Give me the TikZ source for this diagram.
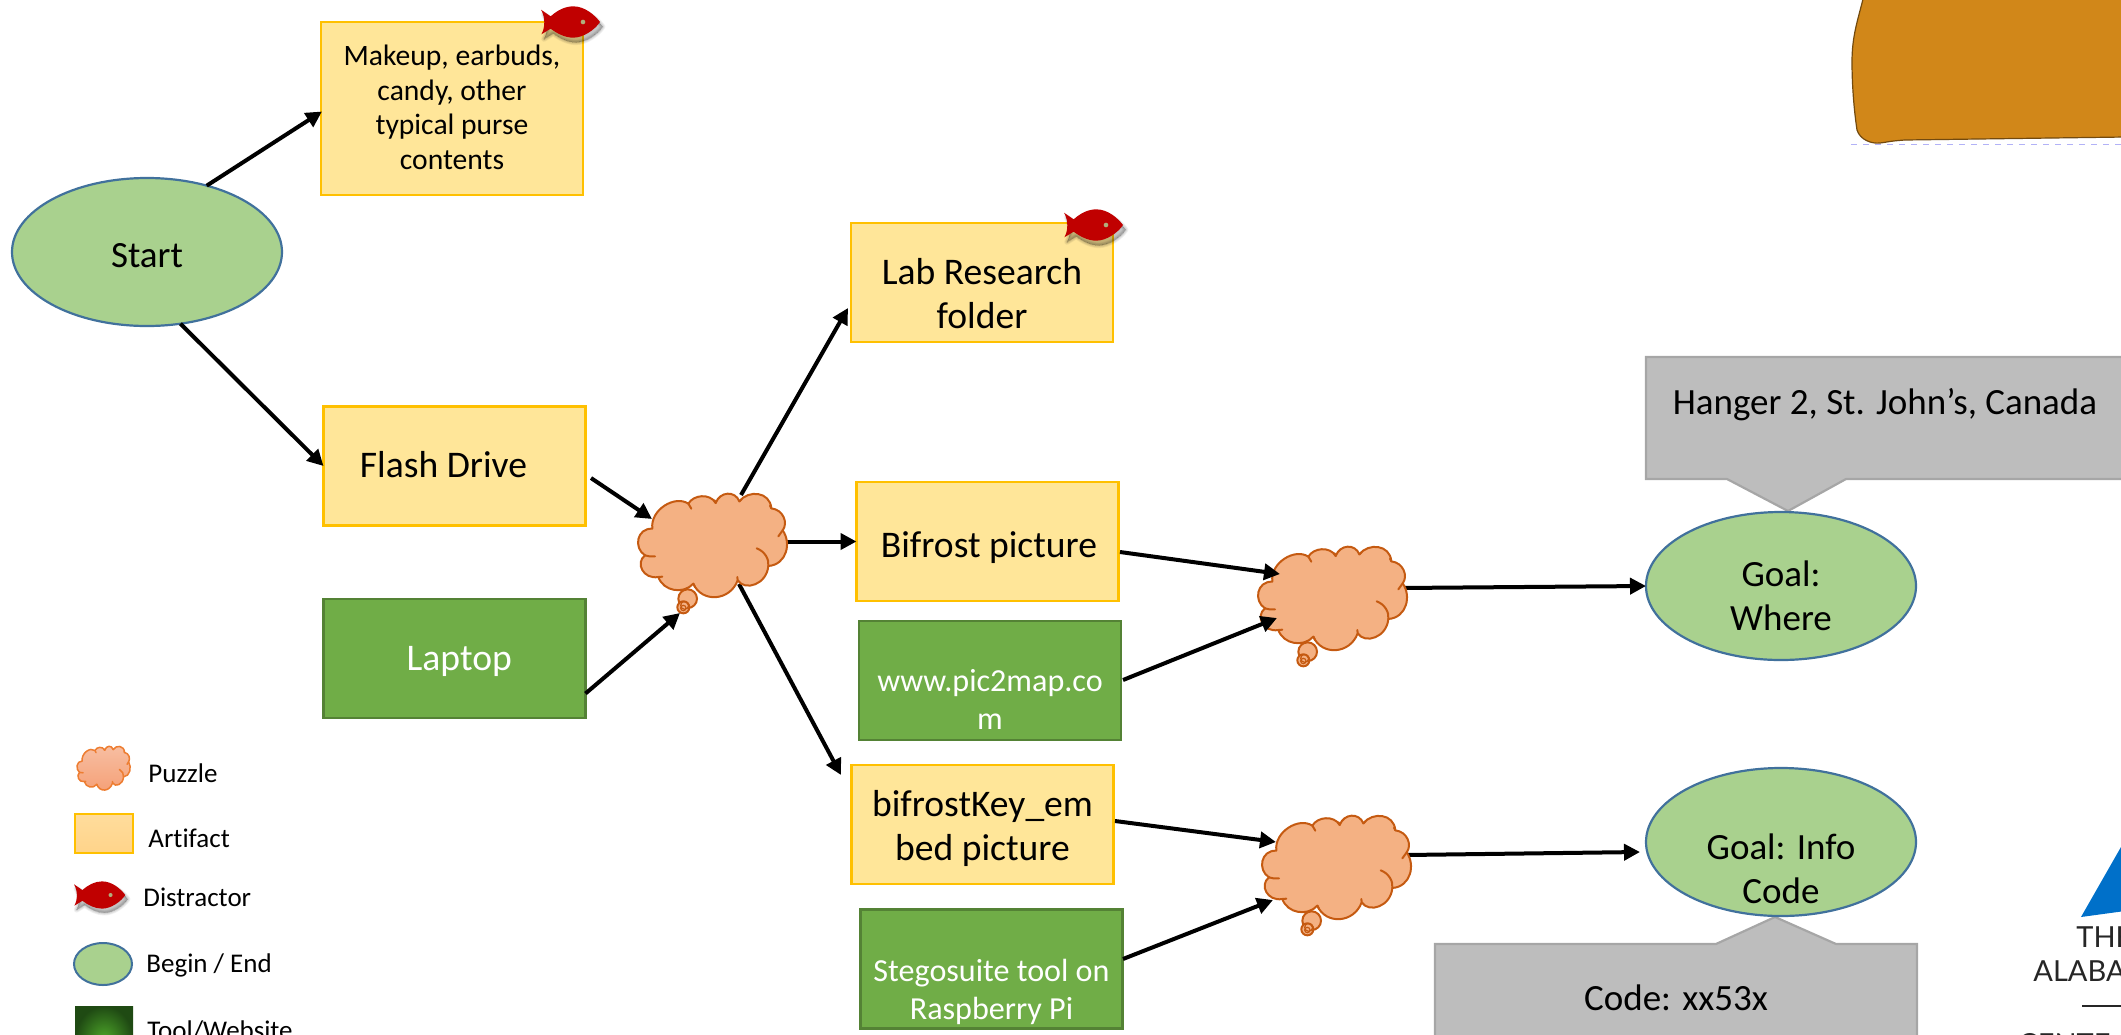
\documentclass[tikz,border=0pt]{standalone}
\usepackage{fontspec}
\setmainfont{Carlito}[Ligatures=NoCommon]
\newfontfamily\logofont{Lato}
\usetikzlibrary{arrows.meta,calc,shapes.geometric}
\definecolor{artfill}{HTML}{FFE699}
\definecolor{artline}{HTML}{FFC000}
\definecolor{toolfill}{HTML}{70AD47}
\definecolor{toolline}{HTML}{548235}
\definecolor{goalfill}{HTML}{A9D18E}
\definecolor{goalline}{HTML}{41719C}
\definecolor{cloudfill}{HTML}{F4B183}
\definecolor{cloudline}{HTML}{C55A11}
\definecolor{greyfill}{HTML}{BDBDBD}
\definecolor{greyline}{HTML}{A6A6A6}
\definecolor{ochre}{HTML}{D18719}
\definecolor{fishred}{HTML}{C00000}
\definecolor{logoblue}{HTML}{0070C9}
\definecolor{lgclouda}{HTML}{F7BFA3}
\definecolor{lgcloudl}{HTML}{ED7D31}
\definecolor{lgarta}{HTML}{FFDC9C}
\definecolor{lgartb}{HTML}{FFD48A}
\definecolor{lgtoola}{HTML}{4EA72A}
\definecolor{lgtoolb}{HTML}{1F4A13}
\tikzset{
  boxbase/.style={rectangle,inner sep=0pt,outer sep=0pt,minimum width=131pt,minimum height=59.5pt,line width=1.1pt,align=center},
  artifact/.style={boxbase,draw=artline,fill=artfill,font=\fontsize{18.8}{22}\selectfont},
  toolbox/.style={boxbase,draw=toolline,fill=toolfill,text=white,font=\fontsize{16.05}{19}\selectfont},
  goal/.style={ellipse,inner sep=0pt,outer sep=0pt,minimum width=135pt,minimum height=74pt,draw=goalline,fill=goalfill,line width=1.1pt,align=center,font=\fontsize{18.5}{22}\selectfont},
  flow/.style={-{Triangle[length=8pt,width=8pt]},line width=2pt,black},
  legendtext/.style={anchor=west,inner sep=0pt,font=\fontsize{13.5}{16}\selectfont},
  calloutfill/.style={draw=greyline,fill=greyfill,line width=1.1pt},
  calltext/.style={inner sep=0pt,font=\fontsize{18.5}{22}\selectfont},
  logotext/.style={anchor=west,inner sep=0pt,text=black!85,font=\logofont\fontsize{14.5}{16}\selectfont},
}
\newcommand{\lbl}[2]{\smash{\raisebox{\dimexpr -#1pt -0.25em\relax}{\begin{tabular}{@{}c@{}}#2\end{tabular}}}}
\newcommand{\cloudshape}[6]{%
  \begin{scope}[shift={(#1,#2)},#3,shift={(-114,-100)}]
    \path[#4,draw=#5,line width=#6,line join=round]
      (157,207) .. controls (150,150) and (225,105) .. (265,132)
      .. controls (280,105) and (330,100) .. (347,130)
      .. controls (360,95) and (405,92) .. (418,125)
      .. controls (445,90) and (510,95) .. (514,146)
      .. controls (550,150) and (565,190) .. (548,212)
      .. controls (575,250) and (560,315) .. (505,319)
      .. controls (500,375) and (435,395) .. (413,362)
      .. controls (390,425) and (305,430) .. (280,372)
      .. controls (250,405) and (190,395) .. (175,352)
      .. controls (130,360) and (105,310) .. (135,287)
      .. controls (100,265) and (110,205) .. (157,207) -- cycle;
    \draw[draw=#5,line width=#6,line cap=round]
      (470,266) .. controls (495,275) and (508,300) .. (505,319)
      (413,362) -- (412,352)
      (280,372) -- (285,382)
      (175,352) -- (187,351)
      (135,287) .. controls (145,291) and (155,291) .. (165,290)
      (548,212) -- (535,230)
      (514,146) -- (510,138)
      (418,125) -- (425,118)
      (347,130) -- (344,122)
      (265,132) -- (274,147);
  \end{scope}}
\newcommand{\puzzle}[3]{%
  \cloudshape{#2}{#3}{scale=1/3}{fill=cloudfill}{cloudline}{1pt}
  \begin{scope}[shift={(#2,#3)},scale=1/3,shift={(-114,-100)}]
    \filldraw[fill=cloudfill,draw=cloudline,line width=1pt] (263,417) circle (28);
    \filldraw[fill=cloudfill,draw=cloudline,line width=1pt] (250,443) circle (18);
    \draw[cloudline,line width=0.6pt] (254,437) circle (12);
    \draw[cloudline,line width=0.6pt] (250,445) circle (8);
  \end{scope}
  \node[inner sep=0pt,outer sep=0pt,minimum size=1pt] (#1) at ($(#2,#3)+(75,53)$) {};}
\newcommand{\fishpath}{(123,28) -- (152,48) .. controls (172,30) and (195,18) .. (220,18)
      .. controls (255,18) and (285,45) .. (300,65)
      .. controls (285,88) and (250,112) .. (220,112)
      .. controls (195,112) and (172,100) .. (152,85) -- (124,102)
      .. controls (136,82) and (136,50) .. (123,28) -- cycle}
\newcommand{\fishat}[3]{%
  \begin{scope}[shift={(#1,#2)},scale=#3,shift={(-123,-65)}]
    \foreach \o in {4,3,2,1,0}{
      \filldraw[black,opacity=0.05,line width=\o*0.7pt,line join=round,shift={(8,14)}] \fishpath;
    }
    \fill[fishred] \fishpath;
    \fill[gray!70!yellow] (249,65) circle (7);
  \end{scope}}
\begin{document}
\begin{tikzpicture}[x=0.5pt,y=-0.5pt]
\useasboundingbox (0,0) rectangle (2121,1034);
\clip (0,0) rectangle (2121,1034);

% ochre shape at top right
\draw[black!45!ochre,line width=0.6pt,fill=ochre] (1864,-5) .. controls (1858,20) and (1852,35) .. (1852,62)
  .. controls (1852,85) and (1854,110) .. (1857,130)
  .. controls (1860,140) and (1872,144) .. (1880,143)
  .. controls (1888,142) and (1890,141) .. (1905,140) -- (2125,137) -- (2125,-5) -- cycle;
\draw[black!10!blue!30!white,line width=0.4pt,dashed] (1851,144) -- (2125,144);

% logo fragment
\fill[logoblue] (2081,917) -- (2125,840) -- (2125,911) -- cycle;
\node[logotext] (logothe) at (2076,937) {THE};
\node[logotext] (logoala) at (2033,971) {ALABA};
\draw[black!85,line width=0.9pt] (2082,1006) -- (2125,1006);
\node[logotext] (logocen) at (2018,1044) {CENTE};

% callouts
\draw[calloutfill] (1646,357) -- (2130,357) -- (2130,479) -- (1846,479) -- (1788,511) -- (1727,479) -- (1646,479) -- cycle;
\draw[calloutfill] (1435,944) -- (1716,944) -- (1775,917) -- (1836,944) -- (1917,944) -- (1917,1045) -- (1435,1045) -- cycle;
\node[calltext] (hanger) at (1885,405) {Hanger 2, St. John’s, Canada};
\node[calltext] (codetxt) at (1676,998) {Code: xx53x};

% connector ends
\coordinate (flashout) at (591,478);
\coordinate (pain) at (652,519);
\coordinate (patail) at (680,613);
\coordinate (paup) at (741,495);
\coordinate (paright) at (785,541.5);
\coordinate (padown) at (739,584);
\coordinate (keyin) at (841,775);
\coordinate (pbina) at (1280,574);
\coordinate (pbinb) at (1277,618);
\coordinate (pbout) at (1400,588);
\coordinate (pcina) at (1276,842);
\coordinate (pcinb) at (1273,900);
\coordinate (pcout) at (1406,855);
\coordinate (infoin) at (1640,852);
\coordinate (bifout) at (1120,552);
\coordinate (picout) at (1123,680);
\coordinate (keyout) at (1115,821);
\coordinate (stegoout) at (1123,959);

% nodes
\node[goal] (start) at (147,252) {\lbl{3.1}{Start}};
\node[artifact,minimum height=86.5pt,font=\fontsize{14.8}{17.4}\selectfont] (purse) at (452,108.5) {\lbl{0.9}{Makeup, earbuds,\\candy, other\\typical purse\\contents}};
\node[artifact] (lab) at (982,282.5) {\lbl{7.4}{Lab Research\\folder}};
\node[artifact] (flash) at (454.5,466) {\lbl{1}{Flash Drive\hspace{11pt}\mbox{}}};
\node[toolbox,font=\fontsize{18.8}{22}\selectfont] (laptop) at (454.5,658.5) {\lbl{1.3}{\hspace{4.8pt}Laptop}};
\node[artifact] (bifrost) at (987.5,541.5) {\lbl{3}{\hspace{1.5pt}Bifrost picture}};
\node[toolbox] (pic) at (990,680.5) {\lbl{11.5}{www.pic2map.co\\m}};
\node[artifact] (key) at (982.5,824.5) {\lbl{2}{bifrostKey\_em\\bed picture}};
\node[toolbox] (stego) at (991.5,969) {\lbl{12.5}{Stegosuite tool on\\Raspberry Pi}};
\node[goal] (where) at (1781,586) {\lbl{6.4}{Goal:\\Where}};
\node[goal] (info) at (1781,842) {\lbl{14.8}{Goal: Info\\Code}};

% connectors leaving or passing behind the puzzles
\draw[flow] (start.48) -- ($(purse.west)+(1,3)$);
\draw[flow] (start.-65) -- (flash.west);
\draw[flow] (paup) -- ($(lab.191)+(-3,0)$);
\draw[flow] (paright) -- (bifrost.west);
\draw[flow] (padown) -- (keyin);
\draw[flow] (pbout) -- (where.west);
\draw[flow] (pcout) -- (infoin);

\puzzle{pa}{638}{493}
\puzzle{pb}{1258}{546}
\puzzle{pc}{1262}{815}

% connectors entering the puzzles
\draw[flow] (flashout) -- (pain);
\draw[flow] ($(laptop.east)+(0,35)$) -- (patail);
\draw[flow] (bifout) -- (pbina);
\draw[flow] (picout) -- (pbinb);
\draw[flow] (keyout) -- (pcina);
\draw[flow] (stegoout) -- (pcinb);

% distractors
\fishat{541}{22}{1/3}
\fishat{1064}{225}{1/3}

% legend
\cloudshape{77}{746}{xscale=0.119,yscale=0.141}{top color=lgclouda,bottom color=cloudfill!90!red}{lgcloudl}{0.75pt}
\node[legendtext] (lgpuzzle) at (148,773) {Puzzle};
\node[rectangle,draw=artline,line width=1pt,top color=lgarta,bottom color=lgartb,minimum width=29pt,minimum height=19.5pt,inner sep=0pt] (lgart) at (103.5,833.5) {};
\node[legendtext] (lgartifact) at (148,838) {Artifact};
\fishat{74}{895}{0.29}
\node[legendtext] (lgdistr) at (143,897) {Distractor};
\node[ellipse,draw=goalline,fill=goalfill,line width=1pt,minimum width=29pt,minimum height=21pt,inner sep=0pt] (lgbegin) at (103,964) {};
\node[legendtext] (lgbe) at (146,965) {Begin / End};
\node[rectangle,minimum width=29pt,minimum height=34pt,inner sep=0pt,inner color=lgtoola,outer color=lgtoolb] (lgtool) at (104,1040) {};
\node[legendtext] (lgtl) at (147,1031) {Tool/Website};
\end{tikzpicture}
\end{document}
